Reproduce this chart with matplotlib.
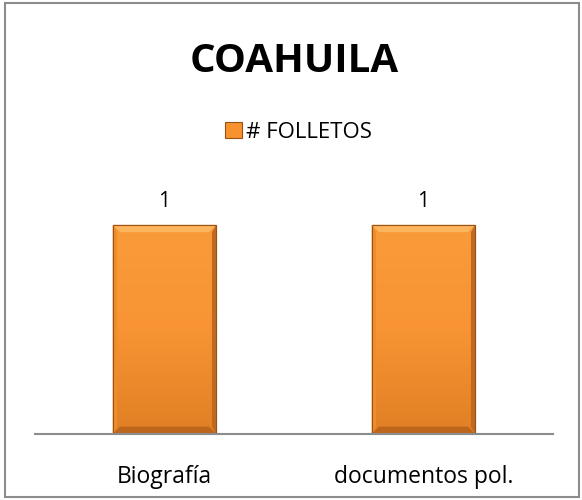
import matplotlib
matplotlib.use("Agg")
import matplotlib.pyplot as plt
import numpy as np
from matplotlib.patches import Rectangle, Polygon
from matplotlib.legend_handler import HandlerPatch
from matplotlib.colors import LinearSegmentedColormap

categories = ["Biografía", "documentos pol."]
folletos = [1, 1]
series_name = "# FOLLETOS"
title = "COAHUILA"

plt.rcParams['font.family'] = ['Open Sans', 'DejaVu Sans']

fig = plt.figure(figsize=(5.82, 5.00), dpi=100)
# outer chart border
fig.patches.append(Rectangle((5 / 582, 3 / 500), 574 / 582, 494 / 500, transform=fig.transFigure,
                             fill=False, edgecolor="#8c8c8c", linewidth=1.5))

ax = fig.add_axes([35 / 582, 66 / 500, 518 / 582, 251 / 500])
x = np.arange(len(categories))
width = 0.4
face = "#F7922D"
bars = ax.bar(x, folletos, width=width, color=face, edgecolor="#A85A17", linewidth=0.8, zorder=2)

ax.set_xlim(-0.5, len(categories) - 0.5)
ax.set_ylim(0, 1.2)

# vertical gradient and bevel on each bar
grad = np.linspace(0, 1, 256).reshape(-1, 1)
cmap = LinearSegmentedColormap.from_list("bar", ["#E07F24", "#F89433", "#FA9B3A"])
for b in bars:
    x0, w, h = b.get_x(), b.get_width(), b.get_height()
    im = ax.imshow(grad, extent=(x0, x0 + w, 0, h), origin="lower", cmap=cmap,
                   aspect="auto", zorder=2.1)
    im.set_clip_path(b)
    dx = w * 0.07
    dy = h * 0.035
    # top light bevel
    ax.add_patch(Polygon([(x0, h), (x0 + w, h), (x0 + w - dx, h - dy), (x0 + dx, h - dy)],
                         closed=True, facecolor="#FCB55C", edgecolor="none", zorder=2.2))
    # bottom dark bevel
    ax.add_patch(Polygon([(x0, 0), (x0 + w, 0), (x0 + w - dx, dy), (x0 + dx, dy)],
                         closed=True, facecolor="#BC661C", edgecolor="none", zorder=2.2))
    # side bevels
    ax.add_patch(Polygon([(x0, 0), (x0 + dx * 0.6, dy), (x0 + dx * 0.6, h - dy), (x0, h)],
                         closed=True, facecolor="#EE8D2E", edgecolor="none", zorder=2.2))
    ax.add_patch(Polygon([(x0 + w, 0), (x0 + w - dx * 0.6, dy), (x0 + w - dx * 0.6, h - dy), (x0 + w, h)],
                         closed=True, facecolor="#C06A20", edgecolor="none", zorder=2.2))
    ax.add_patch(Rectangle((x0, 0), w, h, fill=False, edgecolor="#9A5214", linewidth=0.8, zorder=2.3))
    ax.text(b.get_x() + w / 2, h + 0.06, f"{h:g}", ha="center", va="bottom", fontsize=15, color="black")

for s in ["top", "right", "left"]:
    ax.spines[s].set_visible(False)
ax.spines["bottom"].set_color("#8c8c8c")
ax.spines["bottom"].set_linewidth(1.5)
ax.set_yticks([])
ax.set_xticks(x)
ax.set_xticklabels(categories, fontsize=16.5)
ax.tick_params(axis="x", length=0, pad=22)

fig.text(0.505, 1 - 62 / 500, title, ha="center", va="center", fontsize=29, fontweight="bold")

class BevelHandler(HandlerPatch):
    def create_artists(self, legend, orig_handle, xdescent, ydescent, width, height, fontsize, trans):
        s = min(width, height) * 1.05
        r = Rectangle((width - s - xdescent, -ydescent + (height - s) / 2), s, s, facecolor=face,
                      edgecolor="#9A5214", linewidth=0.8, transform=trans)
        return [r]

handle = Rectangle((0, 0), 1, 1, facecolor=face)
fig.legend([handle], [series_name], loc="center", bbox_to_anchor=(0.513, 1 - 132 / 500),
           frameon=False, fontsize=16, handler_map={Rectangle: BevelHandler()},
           handlelength=0.75, handletextpad=0.2)

fig.savefig("out.png", dpi=100)
